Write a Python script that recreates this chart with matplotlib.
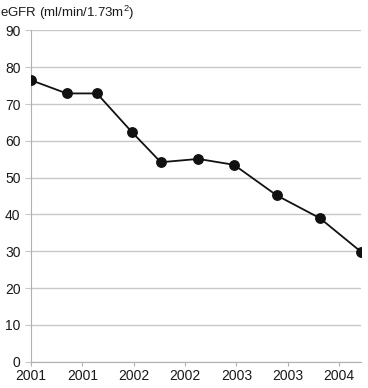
import matplotlib
matplotlib.use("Agg")
import matplotlib.pyplot as plt

# x positions measured in tick spacings from the first tick
visit_pos = [0.0, 0.695, 1.284, 1.959, 2.529, 3.259, 3.955, 4.786, 5.628, 6.426]
egfr = [76.5, 72.9, 72.9, 62.5, 54.2, 55.1, 53.5, 45.2, 39.0, 29.9]
tick_labels = ["2001", "2001", "2002", "2002", "2003", "2003", "2004"]

plt.rcParams['font.family'] = ['Liberation Sans', 'DejaVu Sans']
plt.rcParams['mathtext.fontset'] = 'custom'
plt.rcParams['mathtext.rm'] = 'Liberation Sans'
plt.rcParams['mathtext.it'] = 'Liberation Sans'

fig = plt.figure(figsize=(3.68, 3.88), dpi=100)
ax = fig.add_axes([0.0842, 0.0678, 0.897, 0.8536])

ax.plot(visit_pos, egfr, '-o', color='#111111', lw=1.3, ms=6.8, zorder=3)

ax.set_xlim(0, 6.43)
ax.set_ylim(0, 90)
ax.set_yticks(range(0, 91, 10))
ax.set_xticks(range(len(tick_labels)))
ax.set_xticklabels(tick_labels)

ax.grid(axis='y', color='#c8c8c8', lw=1.0)
ax.set_axisbelow(True)
for s in ['top', 'right']:
    ax.spines[s].set_visible(False)
ax.spines['left'].set_color('#b0b0b0')
ax.spines['bottom'].set_color('#b0b0b0')
ax.tick_params(axis='y', length=4.5, color='#c8c8c8', labelsize=10, pad=3, labelcolor='#1a1a1a')
ax.tick_params(axis='x', length=3, color='#b0b0b0', labelsize=10, pad=2, labelcolor='#1a1a1a')

fig.text(0.0, 0.968, "eGFR (ml/min/1.73m$\\mathrm{^2}$)", fontsize=9.5, color='#1a1a1a',
         ha='left', va='center')

plt.savefig('out.png', dpi=100)
